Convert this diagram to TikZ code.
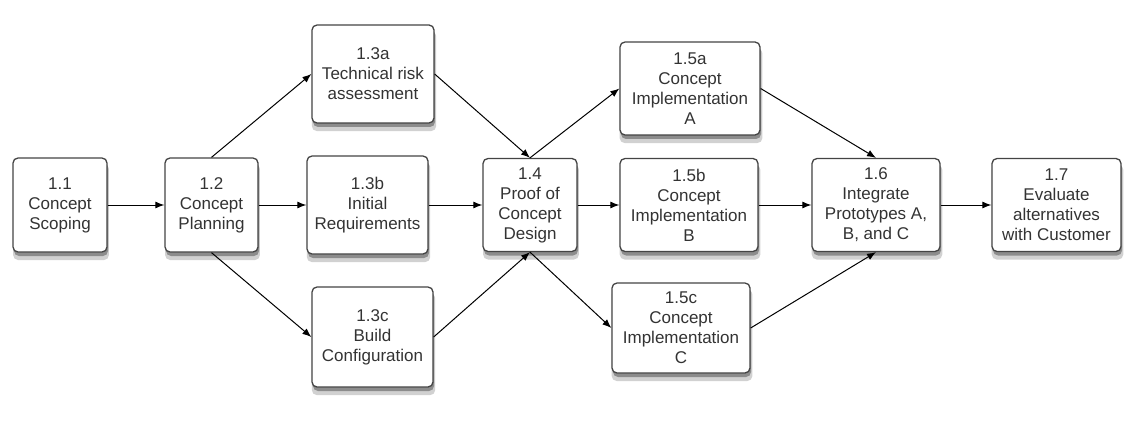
\documentclass[tikz,border=0pt]{standalone}
\usepackage{fontspec}
\setmainfont{Liberation Sans}
\usetikzlibrary{shadows,arrows.meta}
\definecolor{boxline}{HTML}{444444}
\definecolor{boxtext}{HTML}{333333}
\begin{document}
\begin{tikzpicture}[x=1pt, y=-1pt,
	task/.style={draw=boxline, line width=1.3pt, rounded corners=5pt, fill=white, align=center, text=boxtext, inner sep=0pt, font=\fontsize{17}{20}\selectfont,
		drop shadow={shadow xshift=1pt, shadow yshift=-7pt, shadow scale=1.02, fill=black!18, opacity=1},
		drop shadow={shadow xshift=1pt, shadow yshift=-4pt, fill=black!45, opacity=1}},
	link/.style={-{Latex[length=9pt,width=7pt]}, line width=1pt}]
	\useasboundingbox (0,0) rectangle (1134,422);
	\node[task, minimum width=94pt, minimum height=94pt] (t11) at (60,205) {1.1\\Concept\\Scoping};
	\node[task, minimum width=93pt, minimum height=94pt] (t12) at (211.5,205) {1.2\\Concept\\Planning};
	\node[task, minimum width=122pt, minimum height=98pt] (t13a) at (373,74) {1.3a\\Technical risk\\assessment};
	\node[task, minimum width=121pt, minimum height=98pt] (t13b) at (367.5,205) {1.3b\\Initial\\Requirements};
	\node[task, minimum width=121pt, minimum height=100pt] (t13c) at (372.5,337) {1.3c\\Build\\Configuration};
	\node[task, minimum width=94pt, minimum height=93pt] (t14) at (530,205) {1.4\\Proof of\\Concept\\Design};
	\node[task, minimum width=140pt, minimum height=93pt] (t15a) at (690,88.5) {1.5a\\Concept\\Implementation\\A};
	\node[task, minimum width=138pt, minimum height=93pt] (t15b) at (689,205) {1.5b\\Concept\\Implementation\\B};
	\node[task, minimum width=138pt, minimum height=90pt] (t15c) at (681,328) {1.5c\\Concept\\Implementation\\C};
	\node[task, minimum width=128pt, minimum height=93pt] (t16) at (876,205) {1.6\\Integrate\\Prototypes A,\\B, and C};
	\node[task, minimum width=129pt, minimum height=93pt] (t17) at (1056.5,205) {1.7\\Evaluate\\alternatives\\with Customer};
	\draw[link] (t11) -- (t12);
	\draw[link] (t12.north) -- (t13a.west);
	\draw[link] (t12) -- (t13b);
	\draw[link] (t12.south) -- (t13c.west);
	\draw[link] (t13a.east) -- (t14.north);
	\draw[link] (t13b) -- (t14);
	\draw[link] (t13c.east) -- (t14.south);
	\draw[link] (t14.north) -- (t15a.west);
	\draw[link] (t14) -- (t15b);
	\draw[link] (t14.south) -- (t15c.west);
	\draw[link] (t15a.east) -- (t16.north);
	\draw[link] (t15b) -- (t16);
	\draw[link] (t15c.east) -- (t16.south);
	\draw[link] (t16) -- (t17);
\end{tikzpicture}
\end{document}
